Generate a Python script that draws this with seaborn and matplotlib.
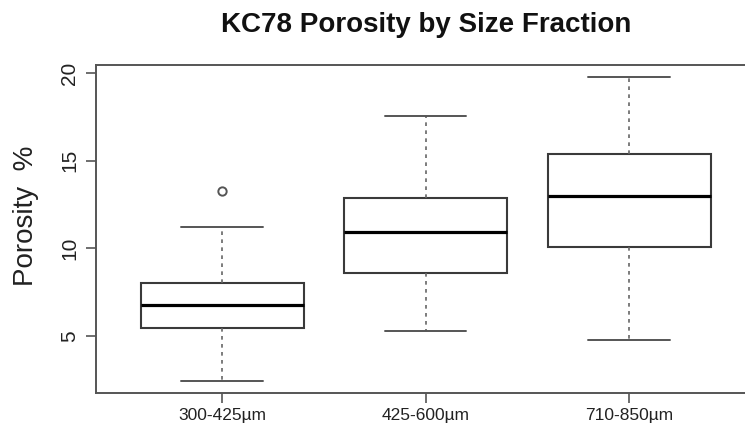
import matplotlib
matplotlib.use("Agg")
import matplotlib.pyplot as plt
import seaborn as sns
import pandas as pd

# Five-number summaries per size fraction (porosity, %)
fractions = ["300-425µm", "425-600µm", "710-850µm"]
whisker_low = [2.46, 5.29, 4.77]
quartile_1 = [5.44, 8.61, 10.10]
medians = [6.75, 10.95, 12.99]
quartile_3 = [8.04, 12.89, 15.37]
whisker_high = [11.24, 17.57, 19.80]
outliers = [[13.27], [], []]

# Expand each summary into a sample whose quartiles reproduce it exactly
rows = []
for i, name in enumerate(fractions):
    if outliers[i]:
        vals = [whisker_low[i], quartile_1[i], quartile_1[i], medians[i], medians[i],
                medians[i], quartile_3[i], whisker_high[i]] + outliers[i]
    else:
        vals = [whisker_low[i], quartile_1[i], medians[i], quartile_3[i], whisker_high[i]]
    rows += [(name, v) for v in vals]
df = pd.DataFrame(rows, columns=["fraction", "porosity"])

sns.set_theme(style="white")
plt.rcParams["font.family"] = ["Liberation Sans", "DejaVu Sans"]

fig = plt.figure(figsize=(7.45, 4.30), dpi=100)
ax = fig.add_axes([0.1289, 0.0867, 0.885, 0.7628])

frame = "#555555"
edge = "#3a3a3a"
sns.boxplot(
    data=df, x="fraction", y="porosity", order=fractions, ax=ax,
    color="white", width=0.8, whis=1.5, linewidth=1.3, linecolor=edge,
    boxprops=dict(facecolor="white", edgecolor=edge, linewidth=1.5),
    medianprops=dict(color="black", linewidth=2.3),
    whiskerprops=dict(color="#666666", linewidth=1.2, linestyle=(0, (2.2, 2.6))),
    capprops=dict(color=frame, linewidth=1.4),
    flierprops=dict(marker="o", markerfacecolor="white", markeredgecolor=frame,
                    markeredgewidth=1.4, markersize=6),
)

ax.set_xlim(-0.62, 2.62)
ax.set_ylim(1.77, 20.48)
ax.set_yticks([5, 10, 15, 20])

for side in ["left", "bottom", "top"]:
    ax.spines[side].set_visible(True)
    ax.spines[side].set_color(frame)
    ax.spines[side].set_linewidth(1.4)
ax.spines["right"].set_visible(False)

ax.tick_params(axis="both", which="both", direction="out", length=7, width=1.2,
               color=frame, left=True, bottom=True)
ax.tick_params(axis="x", labelsize=12.5, pad=4, labelcolor="#222222")
ax.tick_params(axis="y", labelsize=15, pad=5, labelcolor="#222222")
for lab in ax.get_yticklabels():
    lab.set_rotation(90)
    lab.set_va("center")

ax.set_xlabel("")
ax.set_ylabel("Porosity  %", fontsize=20, color="#222222")
ax.yaxis.set_label_coords(-0.086, 0.54)

fig.suptitle("KC78 Porosity by Size Fraction", fontsize=20, fontweight="bold",
             x=0.572, y=0.972, color="#111111")

fig.savefig("out.png", dpi=100)
